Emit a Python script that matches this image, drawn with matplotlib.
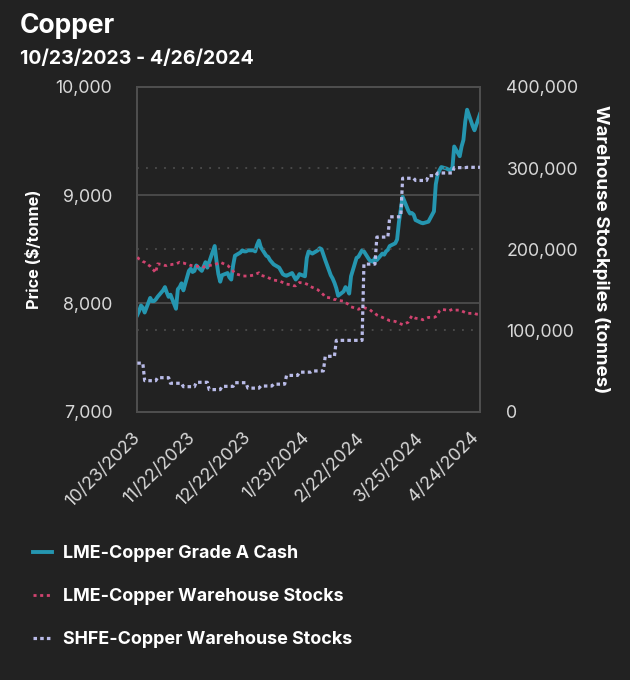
import numpy as np
import pandas as pd
import matplotlib
matplotlib.use("Agg")
import matplotlib.pyplot as plt
from matplotlib.lines import Line2D
from matplotlib.ticker import FuncFormatter, FixedLocator

# ---------------- data ----------------
dates = pd.bdate_range("2023-10-23", "2024-04-26")

price = [
    7892, 7930, 7980, 7960, 7915,
    8050, 8020, 8020, 8035, 8060,
    8120, 8150, 8100, 8060, 8080,
    7950, 8130, 8150, 8185, 8120,
    8300, 8320, 8290, 8300, 8350,
    8300, 8340, 8380, 8330, 8380,
    8530, 8390, 8270, 8200, 8260,
    8280, 8240, 8220, 8350, 8440,
    8470, 8490, 8480, 8480, 8490,
    8490, 8480, 8540, 8580, 8520,
    8440, 8430, 8400, 8380, 8360,
    8330, 8300, 8270, 8260, 8255,
    8280, 8250, 8220, 8240, 8270,
    8250, 8420, 8480, 8470, 8460,
    8490, 8510, 8500, 8450, 8400,
    8260, 8230, 8190, 8140, 8070,
    8110, 8150, 8130, 8090, 8250,
    8420, 8430, 8460, 8490, 8480,
    8400, 8390, 8385, 8420, 8400,
    8460, 8450, 8480, 8495, 8530,
    8555, 8590, 8750, 8870, 8985,
    8860, 8830, 8835, 8820, 8770,
    8745, 8740, 8745, 8750, 8755,
    8850, 9100, 9190, 9230, 9260,
    9245, 9235, 9235, 9245, 9450,
    9360, 9450, 9510, 9680, 9790,
    9640, 9600, 9650, 9700, 9750,
]

lme_stocks_k = [
    190, 188, 187, 185, 184,
    179, 176, 174, 171, 182,
    181, 180, 180, 181, 181,
    182, 183, 184, 183, 183,
    181, 180, 180, 179, 179,
    179, 178, 179, 180, 180,
    181, 182, 183, 184, 183,
    180, 178, 176, 173, 170,
    168, 167, 167, 167, 167,
    168, 169, 170, 171, 168,
    166, 165, 164, 163, 162,
    161, 160, 159, 158, 157,
    156, 155, 155, 157, 159,
    158, 157, 156, 154, 153,
    150, 148, 146, 144, 141,
    140, 139, 138, 138, 137,
    136, 134, 133, 131, 129,
    127, 126, 127, 128, 128,
    126, 124, 122, 121, 119,
    116, 115, 114, 113, 112,
    111, 110, 109, 108, 107,
    110, 114, 118, 116, 115,
    114, 113, 114, 115, 116,
    116, 117, 119, 124, 126,
    125, 124, 125, 126, 125,
    125, 124, 123, 122, 121,
    121, 121, 120, 120, 119,
]

shfe_stocks_k = [
    59.6, 59.6, 59.6, 59.6, 38.0,
    38.0, 38.0, 38.0, 38.0, 41.7,
    41.7, 41.7, 41.7, 41.7, 34.8,
    34.8, 34.8, 34.8, 34.8, 30.6,
    30.6, 30.6, 30.6, 30.6, 36.0,
    36.0, 36.0, 36.0, 36.0, 27.0,
    27.0, 27.0, 27.0, 27.0, 31.0,
    31.0, 31.0, 31.0, 31.0, 35.5,
    35.5, 35.5, 35.5, 35.5, 28.8,
    28.8, 28.8, 28.8, 28.8, 31.4,
    31.4, 31.4, 31.4, 31.4, 33.7,
    33.7, 33.7, 33.7, 33.7, 44.5,
    44.5, 44.5, 44.5, 44.5, 48.5,
    48.5, 48.5, 48.5, 48.5, 50.0,
    50.0, 50.0, 50.0, 50.0, 68.0,
    68.0, 68.0, 68.0, 87.7, 87.7,
    87.7, 87.7, 87.7, 87.7, 87.7,
    87.7, 87.7, 87.7, 87.7, 181.7,
    181.7, 181.7, 181.7, 181.7, 215.0,
    215.0, 215.0, 215.0, 215.0, 240.0,
    240.0, 240.0, 240.0, 240.0, 287.5,
    287.5, 287.5, 287.5, 287.5, 284.8,
    284.8, 284.8, 284.8, 284.8, 290.7,
    290.7, 290.7, 294.0, 294.0, 294.0,
    294.0, 294.0, 294.0, 294.0, 300.6,
    300.6, 300.6, 300.6, 300.6, 301.0,
    301.0, 301.0, 301.0, 301.0, 301.0,
]

x_tick_labels = ["10/23/2023", "11/22/2023", "12/22/2023", "1/23/2024",
                 "2/22/2024", "3/25/2024", "4/24/2024"]
price_ticks = [7000, 8000, 9000, 10000]
stock_ticks = [0, 100000, 200000, 300000, 400000]

series_labels = ["LME-Copper Grade A Cash", "LME-Copper Warehouse Stocks",
                 "SHFE-Copper Warehouse Stocks"]

# ---------------- style ----------------
BG = "#222222"
TEAL = "#2596b0"
PINK = "#d0436f"
LAV = "#b9bbe8"
GRID = "#4d4d4d"
TICKC = "#d8d8d8"
FONT = ["Inter", "DejaVu Sans"]
plt.rcParams["font.family"] = FONT

PINK_LS = (0, (1.1, 1.3))
LAV_LS = (0, (1.1, 1.0))

fig = plt.figure(figsize=(6.3, 6.8), dpi=100, facecolor=BG)
ax = fig.add_axes([137.3 / 630, 1 - 411.5 / 680, (480 - 137.3) / 630, (411.5 - 87) / 680])
ax.set_facecolor(BG)
ax2 = ax.twinx()

xd = np.array(dates.to_pydatetime())
lme_stocks = np.array(lme_stocks_k) * 1000.0
shfe_stocks = np.array(shfe_stocks_k) * 1000.0

ax.plot(xd, price, color=TEAL, lw=2.8, solid_joinstyle="round", zorder=3)
ax2.plot(xd, lme_stocks, color=PINK, lw=2.0, linestyle=PINK_LS, zorder=4)
ax2.plot(xd, shfe_stocks, color=LAV, lw=2.3, linestyle=LAV_LS, zorder=5)

ax.set_xlim(xd[0], xd[-1])
ax.set_ylim(7000, 10000)
ax2.set_ylim(0, 400000)

# ticks
ax.yaxis.set_major_locator(FixedLocator(price_ticks))
ax2.yaxis.set_major_locator(FixedLocator(stock_ticks))
fmt = FuncFormatter(lambda v, p: f"{int(v):,}")
ax.yaxis.set_major_formatter(fmt)
ax2.yaxis.set_major_formatter(fmt)

xt = list(pd.to_datetime(x_tick_labels, format="%m/%d/%Y").to_pydatetime())
ax.set_xticks(xt)
ax.set_xticklabels(x_tick_labels, rotation=45, ha="right", va="center",
                   rotation_mode="anchor")

for a in (ax, ax2):
    a.tick_params(axis="both", length=0, colors=TICKC, labelsize=12.8)
ax.tick_params(axis="x", labelsize=12.9, pad=17)
ax.tick_params(axis="y", pad=18)
ax2.tick_params(axis="y", pad=19)

# grids
for v in price_ticks[1:-1]:
    ax.axhline(v, color=GRID, lw=1.3, zorder=1)
for v in stock_ticks[1:-1]:
    ax2.axhline(v, color=GRID, lw=1.3, linestyle=(0, (1, 4)), zorder=1)

for a in (ax, ax2):
    for s in a.spines.values():
        s.set_color("#4f4f4f")
        s.set_linewidth(1.4)

ax.set_ylabel("Price ($/tonne)", color="white", fontsize=11.7, fontweight="bold", labelpad=10)
ax2.set_ylabel("Warehouse Stockpiles (tonnes)", color="white", fontsize=13.5,
               fontweight="bold", rotation=270, labelpad=23)

# titles
fig.text(20 / 630, 1 - 13 / 680, "Copper", color="white", fontsize=19,
         fontweight="bold", ha="left", va="top")
fig.text(20 / 630, 1 - 50 / 680, "10/23/2023 - 4/26/2024", color="white",
         fontsize=14, fontweight="bold", ha="left", va="top")

# legend
handles = [
    Line2D([], [], color=TEAL, lw=2.8),
    Line2D([], [], color=PINK, lw=2.0, linestyle=PINK_LS),
    Line2D([], [], color=LAV, lw=2.3, linestyle=LAV_LS),
]
leg = fig.legend(handles, series_labels, loc="upper left",
                 bbox_to_anchor=(33 / 630, 1 - 545 / 680), frameon=False,
                 handlelength=1.05, handletextpad=0.6, labelspacing=1.45,
                 borderpad=0, borderaxespad=0,
                 prop={"family": FONT, "weight": "bold", "size": 12.9})
for t in leg.get_texts():
    t.set_color("white")

fig.savefig("out.png", dpi=100, facecolor=BG)
